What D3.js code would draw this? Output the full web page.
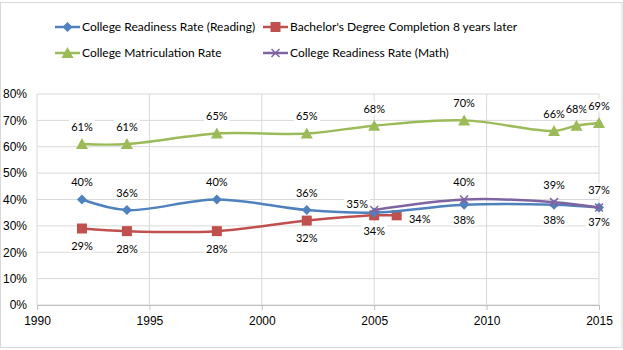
<!DOCTYPE html>
<html>
<head>
<meta charset="utf-8">
<script src="https://cdn.jsdelivr.net/npm/d3@7"></script>
<style>
body{margin:0;background:#fff;}
svg{font-family:Lato,"Open Sans",sans-serif;}
</style>
</head>
<body>
<div id="chart"></div>
<script>
// data
var readingYears = [1992,1994,1998,2002,2005,2009,2013,2015];
var readingVals  = [40,36,40,36,35,38,38,37];
var bachelorYears = [1992,1994,1998,2002,2005,2006];
var bachelorVals  = [29,28,28,32,34,34];
var matricYears = [1992,1994,1998,2002,2005,2009,2013,2014,2015];
var matricVals  = [61,61,65,65,68,70,66,68,69];
var mathYears = [2005,2009,2013,2015];
var mathVals  = [36,40,39,37];
var yTicks = [0,10,20,30,40,50,60,70,80];
var xTicks = [1990,1995,2000,2005,2010,2015];

var w = 623, h = 350;
var svg = d3.select("#chart").append("svg").attr("width",w).attr("height",h);

svg.append("rect").attr("x",0.5).attr("y",2.5).attr("width",w-1.5).attr("height",h-5)
  .attr("fill","#fff").attr("stroke","#d9d9d9");

var x = d3.scaleLinear().domain([1990,2015]).range([37,599]);
var y = d3.scaleLinear().domain([0,80]).range([305,94]);

// grid
svg.selectAll(".hg").data(yTicks).enter().append("line")
  .attr("x1",x(1990)).attr("x2",x(2015))
  .attr("y1",function(d){return y(d);}).attr("y2",function(d){return y(d);})
  .attr("stroke","#d9d9d9").attr("stroke-width",1);
svg.selectAll(".vg").data(xTicks).enter().append("line")
  .attr("x1",function(d){return x(d);}).attr("x2",function(d){return x(d);})
  .attr("y1",y(80)).attr("y2",y(0))
  .attr("stroke","#d9d9d9").attr("stroke-width",1);

// axes
var xAxis = svg.append("g").attr("transform","translate(0,"+y(0)+")")
  .call(d3.axisBottom(x).tickValues(xTicks).tickFormat(d3.format("d")).tickSize(5).tickPadding(6));
xAxis.select(".domain").attr("stroke","#bfbfbf");
xAxis.selectAll(".tick line").attr("stroke","#bfbfbf");
xAxis.selectAll("text").attr("font-size","12px").attr("fill","#000");

var yAxis = svg.append("g").attr("transform","translate("+x(1990)+",0)")
  .call(d3.axisLeft(y).tickValues(yTicks).tickFormat(function(d){return d+"%";}).tickSize(0).tickPadding(10));
yAxis.select(".domain").remove();
yAxis.selectAll("text").attr("font-size","12px").attr("fill","#000");

var series = [
  {name:"College Readiness Rate (Reading)",years:readingYears,vals:readingVals,col:"#4F81BD",mark:"diamond",
   lab:[[0,-17],[0,-17],[0,-17],[0,-17],[-17,-9],[0,15],[0,15],[0,15]]},
  {name:"Bachelor's Degree Completion 8 years later",years:bachelorYears,vals:bachelorVals,col:"#C0504D",mark:"square",
   lab:[[0,18],[0,18],[0,18],[0,18],[0,16],[23,4]]},
  {name:"College Matriculation Rate",years:matricYears,vals:matricVals,col:"#9BBB59",mark:"triangle",
   lab:[[0,-17],[0,-17],[0,-17],[0,-17],[0,-17],[0,-17],[0,-17],[0,-17],[0,-17]]},
  {name:"College Readiness Rate (Math)",years:mathYears,vals:mathVals,col:"#8064A2",mark:"cross",
   lab:[null,[0,-17],[0,-17],[0,-17]]}
];
// the 35% label belongs to the reading point at 2005; math at 2005 carries no label

var line = d3.line().x(function(d){return x(d[0]);}).y(function(d){return y(d[1]);})
  .curve(d3.curveCatmullRom.alpha(0.5));

function marker(g,type,col){
  if(type==="diamond"){
    g.append("path").attr("d","M0,-5L5,0L0,5L-5,0Z").attr("fill",col);
  } else if(type==="square"){
    g.append("rect").attr("x",-5).attr("y",-5).attr("width",10).attr("height",10).attr("fill",col);
  } else if(type==="triangle"){
    g.append("path").attr("d","M0,-6L6,5L-6,5Z").attr("fill",col);
  } else {
    g.append("path").attr("d","M-4,-4L4,4M-4,4L4,-4").attr("stroke",col).attr("stroke-width",1.5);
  }
}

var order = [1,0,3,2];
order.forEach(function(si){
  var s = series[si];
  var pts = s.years.map(function(yr,i){return [yr,s.vals[i]];});
  svg.append("path").datum(pts).attr("d",line).attr("fill","none")
    .attr("stroke",s.col).attr("stroke-width",2.5);
  pts.forEach(function(p){
    var g = svg.append("g").attr("transform","translate("+x(p[0])+","+y(p[1])+")");
    marker(g,s.mark,s.col);
  });
});

// data labels with white backing
series.forEach(function(s){
  s.years.forEach(function(yr,i){
    var off = s.lab[i];
    if(!off) return;
    var cx = x(yr)+off[0], cy = y(s.vals[i])+off[1];
    var t = svg.append("text").attr("x",cx).attr("y",cy).attr("dy","0.35em")
      .attr("text-anchor","middle").attr("font-size","11px").attr("fill","#000")
      .text(s.vals[i]+"%");
    var bb = t.node().getBBox();
    svg.insert("rect",function(){return t.node();})
      .attr("x",bb.x-2).attr("y",bb.y).attr("width",bb.width+4).attr("height",bb.height)
      .attr("fill","#fff");
  });
});

// legend
var legPos = [[55,27],[263,27],[55,53],[263,53]];
series.forEach(function(s,i){
  var g = svg.append("g").attr("transform","translate("+legPos[i][0]+","+legPos[i][1]+")");
  g.append("line").attr("x1",0).attr("x2",25).attr("stroke",s.col).attr("stroke-width",2.5);
  var m = g.append("g").attr("transform","translate(12.5,0)");
  marker(m,s.mark,s.col);
  g.append("text").attr("x",27).attr("dy","0.35em").attr("font-size","12px").text(s.name);
});
</script>
</body>
</html>
